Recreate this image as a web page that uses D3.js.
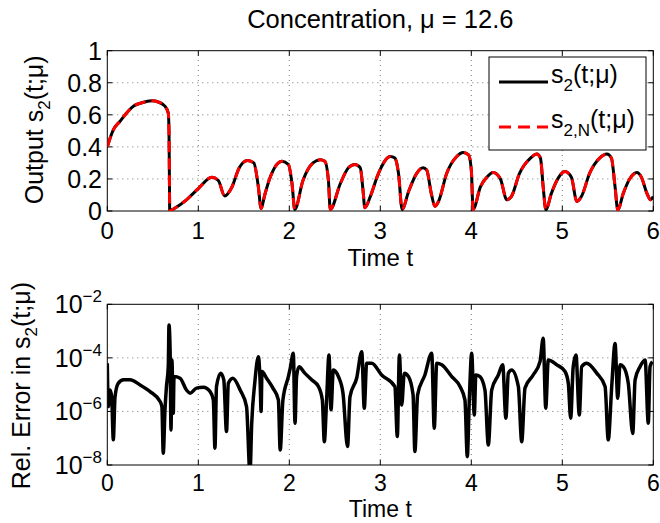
<!DOCTYPE html>
<html>
<head>
<meta charset="utf-8">
<script src="https://cdn.jsdelivr.net/npm/d3@7"></script>
<style>
  body { margin: 0; background: #fff; }
  text { font-family: Arial, 'Liberation Sans', sans-serif; fill: #000; }
</style>
</head>
<body>
<script>
//chart values
var timeTop = [0, 0.066, 0.14, 0.21, 0.29, 0.38, 0.49, 0.56, 0.63, 0.67, 0.678, 0.682, 0.686,
  0.74, 0.87, 1.0, 1.15, 1.22, 1.29, 1.37, 1.45, 1.54, 1.61, 1.66, 1.69, 1.73, 1.79, 1.92, 1.99,
  2.03, 2.06, 2.15, 2.26, 2.34, 2.39, 2.43, 2.45, 2.56, 2.65, 2.72, 2.78, 2.81, 2.83, 2.89, 2.98,
  3.11, 3.16, 3.20, 3.24, 3.31, 3.40, 3.47, 3.51, 3.56, 3.60, 3.64, 3.73, 3.84, 3.91, 3.97, 4.00,
  4.02, 4.10, 4.17, 4.24, 4.32, 4.39, 4.44, 4.53, 4.65, 4.72, 4.76, 4.79, 4.82, 4.88, 4.96, 5.03,
  5.10, 5.16, 5.21, 5.30, 5.41, 5.49, 5.54, 5.58, 5.61, 5.67, 5.74, 5.82, 5.87, 5.93, 5.97, 6.0];
var s2 = [0.40, 0.506, 0.56, 0.61, 0.655, 0.675, 0.687, 0.68, 0.656, 0.61, 0.50, 0.25, 0.0,
  0.017, 0.07, 0.14, 0.21, 0.19, 0.094, 0.15, 0.27, 0.315, 0.30, 0.15, 0.015, 0.10, 0.21, 0.31, 0.29,
  0.17, 0.01, 0.19, 0.30, 0.32, 0.31, 0.19, 0.01, 0.17, 0.27, 0.29, 0.27, 0.13, 0.02, 0.09, 0.235,
  0.34, 0.33, 0.235, 0.01, 0.12, 0.235, 0.27, 0.256, 0.11, 0.03, 0.06, 0.235, 0.34, 0.365, 0.35, 0.256,
  0.01, 0.15, 0.21, 0.24, 0.20, 0.07, 0.09, 0.235, 0.33, 0.356, 0.33, 0.15, 0.006, 0.11, 0.21, 0.246,
  0.21, 0.06, 0.09, 0.235, 0.33, 0.356, 0.33, 0.15, 0.006, 0.11, 0.20, 0.24, 0.21, 0.11, 0.07, 0.09];
//reduced model output, indistinguishable from s2 at this scale
var s2N = [0.40, 0.506, 0.56, 0.61, 0.655, 0.675, 0.687, 0.68, 0.656, 0.61, 0.50, 0.25, 0.0,
  0.017, 0.07, 0.14, 0.21, 0.19, 0.094, 0.15, 0.27, 0.315, 0.30, 0.15, 0.015, 0.10, 0.21, 0.31, 0.29,
  0.17, 0.01, 0.19, 0.30, 0.32, 0.31, 0.19, 0.01, 0.17, 0.27, 0.29, 0.27, 0.13, 0.02, 0.09, 0.235,
  0.34, 0.33, 0.235, 0.01, 0.12, 0.235, 0.27, 0.256, 0.11, 0.03, 0.06, 0.235, 0.34, 0.365, 0.35, 0.256,
  0.01, 0.15, 0.21, 0.24, 0.20, 0.07, 0.09, 0.235, 0.33, 0.356, 0.33, 0.15, 0.006, 0.11, 0.21, 0.246,
  0.21, 0.06, 0.09, 0.235, 0.33, 0.356, 0.33, 0.15, 0.006, 0.11, 0.20, 0.24, 0.21, 0.11, 0.07, 0.09];

var timeErr = [0.00, 0.011, 0.03, 0.048, 0.066, 0.085, 0.12, 0.18, 0.25, 0.36, 0.47, 0.58, 0.60,
  0.615, 0.634, 0.65, 0.67, 0.678, 0.69, 0.70, 0.71, 0.725, 0.733, 0.80, 0.87, 0.91, 0.98, 1.055,
  1.13, 1.165, 1.183, 1.20, 1.246, 1.28, 1.31, 1.33, 1.38, 1.46, 1.53, 1.568, 1.587, 1.62, 1.66,
  1.68, 1.69, 1.70, 1.75, 1.82, 1.88, 1.90, 1.93, 1.99, 2.01, 2.044, 2.063, 2.08, 2.107, 2.17,
  2.246, 2.32, 2.363, 2.385, 2.41, 2.436, 2.458, 2.484, 2.54, 2.59, 2.64, 2.667, 2.74, 2.796,
  2.824, 2.85, 2.905, 3.015, 3.16, 3.187, 3.21, 3.235, 3.264, 3.31, 3.36, 3.38, 3.41, 3.49, 3.565,
  3.593, 3.62, 3.675, 3.785, 3.876, 3.93, 3.956, 3.978, 4.004, 4.033, 4.05, 4.095, 4.15, 4.187,
  4.224, 4.297, 4.345, 4.38, 4.407, 4.444, 4.517, 4.554, 4.59, 4.68, 4.755, 4.79, 4.818, 4.846,
  4.94, 5.03, 5.066, 5.092, 5.12, 5.15, 5.187, 5.213, 5.268, 5.378, 5.47, 5.505, 5.543, 5.58,
  5.609, 5.634, 5.67, 5.725, 5.774, 5.80, 5.854, 5.91, 5.945, 5.964, 5.99];
//log10 of the relative error
var errLog10 = [-4.2, -5.82, -5.2, -5.45, -7.06, -5.45, -4.95, -4.82, -4.82, -5.01, -5.26, -5.63, -5.82,
  -7.56, -5.94, -5.07, -4.33, -2.77, -3.7, -6.69, -4.08, -6.07, -4.7, -4.76, -5.2, -5.32, -5.13, -5.1,
  -5.26, -5.57, -7.37, -5.07, -4.57, -4.82, -6.75, -4.95, -4.76, -5.2, -5.82, -8.3, -6.44, -4.95, -3.96,
  -4.95, -6.0, -4.51, -4.76, -5.13, -5.57, -7.44, -5.57, -4.7, -4.39, -3.83, -6.44, -4.7, -4.33, -4.57,
  -4.82, -5.07, -5.57, -7.13, -5.57, -3.89, -5.94, -4.45, -4.7, -5.32, -7.31, -5.45, -4.76, -3.77,
  -5.88, -4.2, -4.2, -4.64, -5.07, -6.94, -3.89, -5.76, -4.57, -4.7, -5.38, -7.5, -5.38, -4.64, -3.83,
  -6.63, -4.2, -4.26, -4.7, -5.07, -5.57, -7.69, -5.57, -3.83, -6.13, -4.64, -4.7, -5.2, -7.25,
  -5.2, -4.64, -4.26, -6.25, -4.57, -4.45, -5.07, -7.13, -5.13, -4.64, -4.14, -3.27, -5.88, -4.08,
  -4.26, -4.51, -4.95, -6.25, -4.33, -3.89, -6.13, -4.33, -4.2, -4.57, -5.07, -7.06, -5.07, -3.46,
  -5.51, -4.26, -4.33, -4.95, -6.82, -4.82, -4.33, -4.08, -6.44, -4.33, -4.14];

var timeTicks = [0, 1, 2, 3, 4, 5, 6],
    outputTicks = [0, 0.2, 0.4, 0.6, 0.8, 1],
    outputTickLabels = ['0', '0.2', '0.4', '0.6', '0.8', '1'],
    errTickExps = [-8, -6, -4, -2];

//layout
var width = 660,
    height = 523,
    left = 107.3,
    right = 653.3,
    tickLen = 5,
    fontSize = 25;

var svg = d3.select('body').append('svg')
    .attr('width', width)
    .attr('height', height);

var x = d3.scaleLinear().domain([0, 6]).range([left, right]);
var yTop = d3.scaleLinear().domain([0, 1]).range([211, 50.7]);
var yErr = d3.scaleLog().domain([1e-8, 1e-2]).range([465, 304.3]);

//clip regions for the two axes
var defs = svg.append('defs');
defs.append('clipPath').attr('id', 'clipTop').append('rect')
    .attr('x', left).attr('y', yTop(1)).attr('width', right - left).attr('height', yTop(0) - yTop(1));
defs.append('clipPath').attr('id', 'clipErr').append('rect')
    .attr('x', left).attr('y', yErr(1e-2)).attr('width', right - left).attr('height', yErr(1e-8) - yErr(1e-2));

//draws dotted grid, inward ticks on all sides, box, time ticks and time label
var drawFrame = function(yScale, yVals, xFont, tickOff, labelOff){
  var y0 = yScale.range()[0], y1 = yScale.range()[1];
  var g = svg.append('g');

  g.selectAll('.vgrid').data(timeTicks.slice(1, -1)).enter().append('line')
      .attr('x1', function(d){ return x(d); }).attr('x2', function(d){ return x(d); })
      .attr('y1', y0).attr('y2', y1)
      .attr('stroke', '#555').attr('stroke-width', 0.8).attr('stroke-dasharray', '1,4');
  g.selectAll('.hgrid').data(yVals.slice(1, -1)).enter().append('line')
      .attr('x1', left).attr('x2', right)
      .attr('y1', function(d){ return yScale(d); }).attr('y2', function(d){ return yScale(d); })
      .attr('stroke', '#555').attr('stroke-width', 0.8).attr('stroke-dasharray', '1,4');

  //ticks
  timeTicks.forEach(function(d){
    g.append('line').attr('x1', x(d)).attr('x2', x(d)).attr('y1', y0).attr('y2', y0 - tickLen)
        .attr('stroke', '#000');
    g.append('line').attr('x1', x(d)).attr('x2', x(d)).attr('y1', y1).attr('y2', y1 + tickLen)
        .attr('stroke', '#000');
  });
  yVals.forEach(function(d){
    g.append('line').attr('x1', left).attr('x2', left + tickLen).attr('y1', yScale(d)).attr('y2', yScale(d))
        .attr('stroke', '#000');
    g.append('line').attr('x1', right).attr('x2', right - tickLen).attr('y1', yScale(d)).attr('y2', yScale(d))
        .attr('stroke', '#000');
  });

  g.append('rect')
      .attr('x', left).attr('y', y1).attr('width', right - left).attr('height', y0 - y1)
      .attr('fill', 'none').attr('stroke', '#000').attr('stroke-width', 1);

  //time tick labels
  g.selectAll('.xlab').data(timeTicks).enter().append('text')
      .attr('x', function(d){ return x(d); })
      .attr('y', y0 + tickOff)
      .attr('text-anchor', 'middle')
      .attr('font-size', xFont)
      .text(function(d){ return d; });

  g.append('text')
      .attr('x', (left + right) / 2)
      .attr('y', y0 + labelOff)
      .attr('text-anchor', 'middle')
      .attr('font-size', xFont)
      .text('Time t');
  return g;
};

//TOP PANEL: output
svg.append('text')
    .attr('x', (left + right) / 2)
    .attr('y', 28)
    .attr('text-anchor', 'middle')
    .attr('font-size', 25.5)
    .text('Concentration, \u03bc = 12.6');

var gTop = drawFrame(yTop, outputTicks, 24, 28, 55);

gTop.selectAll('.ylab').data(outputTicks).enter().append('text')
    .attr('x', 102)
    .attr('y', function(d){ return yTop(d) + 8.8; })
    .attr('text-anchor', 'end')
    .attr('font-size', fontSize)
    .text(function(d, i){ return outputTickLabels[i]; });

var topLabel = svg.append('text')
    .attr('transform', 'translate(43,' + (yTop(0.5) - 1) + ') rotate(-90)')
    .attr('text-anchor', 'middle')
    .attr('font-size', fontSize);
topLabel.append('tspan').text('Output s');
topLabel.append('tspan').attr('font-size', 17).attr('dy', 7).text('2');
topLabel.append('tspan').attr('dy', -7).text('(t;\u03bc)');

var topLine = d3.line()
    .x(function(d){ return x(d[0]); })
    .y(function(d){ return yTop(d[1]); })
    .curve(d3.curveMonotoneX);

svg.append('path')
    .datum(d3.zip(timeTop, s2))
    .attr('clip-path', 'url(#clipTop)')
    .attr('d', topLine)
    .attr('fill', 'none').attr('stroke', '#000').attr('stroke-width', 3);

svg.append('path')
    .datum(d3.zip(timeTop, s2N))
    .attr('clip-path', 'url(#clipTop)')
    .attr('d', topLine)
    .attr('fill', 'none').attr('stroke', '#ff0000').attr('stroke-width', 3)
    .attr('stroke-dasharray', '11,6');

//legend
var legend = svg.append('g');
legend.append('rect')
    .attr('x', 489).attr('y', 57).attr('width', 157).attr('height', 93)
    .attr('fill', '#fff').attr('stroke', '#000').attr('stroke-width', 1);
legend.append('line').attr('x1', 499).attr('x2', 548).attr('y1', 82).attr('y2', 82)
    .attr('stroke', '#000').attr('stroke-width', 3);
legend.append('line').attr('x1', 499).attr('x2', 548).attr('y1', 127).attr('y2', 127)
    .attr('stroke', '#ff0000').attr('stroke-width', 3).attr('stroke-dasharray', '12,7');
var leg1 = legend.append('text').attr('x', 551).attr('y', 83).attr('font-size', fontSize);
leg1.append('tspan').text('s');
leg1.append('tspan').attr('font-size', 17).attr('dy', 8).text('2');
leg1.append('tspan').attr('dy', -8).text('(t;\u03bc)');
var leg2 = legend.append('text').attr('x', 551).attr('y', 128).attr('font-size', fontSize);
leg2.append('tspan').text('s');
leg2.append('tspan').attr('font-size', 17).attr('dy', 8).text('2,N');
leg2.append('tspan').attr('dy', -8).text('(t;\u03bc)');

//BOTTOM PANEL: relative error
var errTicks = errTickExps.map(function(e){ return Math.pow(10, e); });
var gErr = drawFrame(yErr, errTicks, 23, 26, 52);

errTickExps.forEach(function(e){
  var t = gErr.append('text')
      .attr('x', 102)
      .attr('y', yErr(Math.pow(10, e)) + 9)
      .attr('text-anchor', 'end')
      .attr('font-size', fontSize);
  t.append('tspan').text('10');
  t.append('tspan').attr('font-size', 17).attr('dy', -11).text('\u2212' + Math.abs(e));
});

var errLabel = svg.append('text')
    .attr('transform', 'translate(30,' + (yErr(1e-5) + 1) + ') rotate(-90)')
    .attr('text-anchor', 'middle')
    .attr('font-size', fontSize);
errLabel.append('tspan').text('Rel. Error in s');
errLabel.append('tspan').attr('font-size', 17).attr('dy', 7).text('2');
errLabel.append('tspan').attr('dy', -7).text('(t;\u03bc)');

var errLine = d3.line()
    .x(function(d){ return x(d[0]); })
    .y(function(d){ return yErr(Math.pow(10, d[1])); })
    .curve(d3.curveMonotoneX);

svg.append('path')
    .datum(d3.zip(timeErr, errLog10))
    .attr('clip-path', 'url(#clipErr)')
    .attr('d', errLine)
    .attr('fill', 'none').attr('stroke', '#000').attr('stroke-width', 3.5)
    .attr('stroke-linejoin', 'round');
</script>
</body>
</html>
